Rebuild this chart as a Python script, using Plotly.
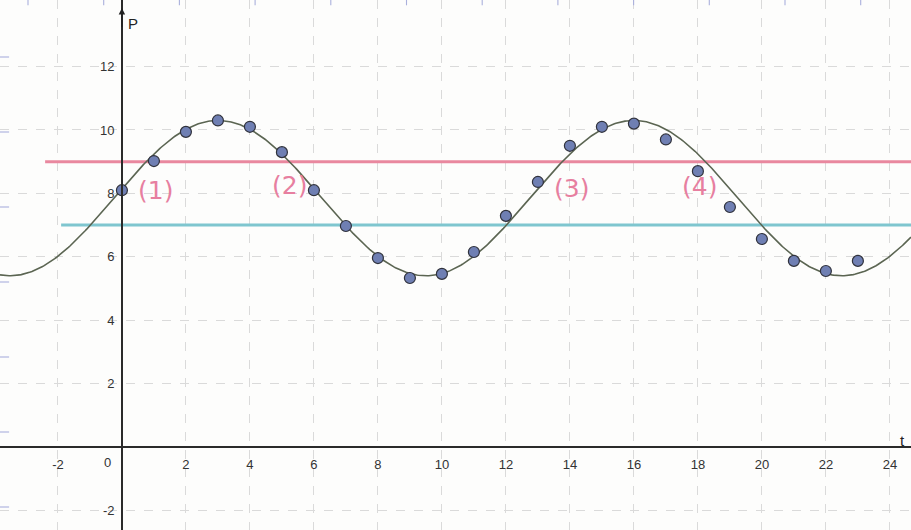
import numpy as np
import plotly.graph_objects as go

# ---- data ----
t_values = list(range(0, 24))
p_values = [8.1, 9.02, 9.94, 10.3, 10.1, 9.3, 8.1, 6.97, 5.96, 5.33, 5.46, 6.15,
            7.29, 8.36, 9.5, 10.1, 10.2, 9.7, 8.7, 7.57, 6.56, 5.87, 5.55, 5.87]

# fitted sine model P(t) = mean + amp * cos(2*pi*(t - t_peak)/period)
fit_mean = 7.85
fit_amp = 2.45
fit_period = 13.0
fit_t_peak = 3.0

pink_level = 9.0
pink_start = -2.4
cyan_level = 7.0
cyan_start = -1.9

x_tick_vals = [-2, 2, 4, 6, 8, 10, 12, 14, 16, 18, 20, 22, 24]
y_tick_vals = [-2, 2, 4, 6, 8, 10, 12]

note_labels = ["(1)", "(2)", "(3)", "(4)"]
note_t = [1.05, 5.25, 14.05, 18.05]
note_p = [8.1, 8.25, 8.15, 8.22]

X_RANGE = [-3.81, 24.66]
Y_RANGE = [-2.62, 14.1]

PINK = "#e9889f"
CYAN = "#7fc6cf"
HAND = "#e77fa0"

fig = go.Figure()

t_curve = np.linspace(X_RANGE[0], X_RANGE[1], 600)
p_curve = fit_mean + fit_amp * np.cos(2 * np.pi * (t_curve - fit_t_peak) / fit_period)

fig.add_trace(go.Scatter(x=[pink_start, X_RANGE[1]], y=[pink_level, pink_level], mode="lines",
                         line=dict(color=PINK, width=3), hoverinfo="skip"))
fig.add_trace(go.Scatter(x=[cyan_start, X_RANGE[1]], y=[cyan_level, cyan_level], mode="lines",
                         line=dict(color=CYAN, width=3), hoverinfo="skip"))
fig.add_trace(go.Scatter(x=t_curve, y=p_curve, mode="lines",
                         line=dict(color="#5b6552", width=1.6), hoverinfo="skip"))
fig.add_trace(go.Scatter(x=t_values, y=p_values, mode="markers",
                         marker=dict(size=11, color="#6f7fb3",
                                     line=dict(color="#30323c", width=1.2))))

for lab, tx, py in zip(note_labels, note_t, note_p):
    fig.add_annotation(x=tx, y=py, text=lab, showarrow=False,
                       font=dict(family="DejaVu Sans", size=25, color=HAND))

# origin label, axis names, arrow
fig.add_annotation(x=0, y=0, text="0", showarrow=False, xshift=-14, yshift=-16,
                   font=dict(family="Liberation Sans", size=13, color="#333"))
fig.add_annotation(x=0, y=13.35, text="P", showarrow=False, xshift=11,
                   font=dict(family="Liberation Sans", size=15, color="#222"))
fig.add_annotation(x=24.38, y=0.2, text="t", showarrow=False,
                   font=dict(family="Liberation Sans", size=15, color="#222"))
fig.add_annotation(x=0, y=13.85, ax=0, ay=13.2, xref="x", yref="y", axref="x", ayref="y",
                   text="", showarrow=True, arrowhead=2, arrowsize=1, arrowwidth=1.3,
                   arrowcolor="#222")

# faint scan marks along the top and left edges of the sheet
shapes = []
for i in range(12):
    xp = (28 + i * 75.7) / 911
    shapes.append(dict(type="line", xref="paper", yref="paper", x0=xp, x1=xp,
                       y0=1.0, y1=0.99, line=dict(color="#aab0dc", width=1.1)))
for i in range(7):
    yp = 1 - (57 + i * 75) / 530
    shapes.append(dict(type="line", xref="paper", yref="paper", x0=0, x1=0.01,
                       y0=yp, y1=yp, line=dict(color="#aab0dc", width=1.1)))

x_pos = (0 - X_RANGE[0]) / (X_RANGE[1] - X_RANGE[0])
y_pos = (0 - Y_RANGE[0]) / (Y_RANGE[1] - Y_RANGE[0])

fig.update_layout(
    width=911, height=530,
    margin=dict(l=0, r=0, t=0, b=0, pad=0),
    paper_bgcolor="#fdfdfc", plot_bgcolor="#fdfdfc",
    showlegend=False,
    shapes=shapes,
    xaxis=dict(range=X_RANGE, anchor="free", position=y_pos, automargin=False,
               tickvals=x_tick_vals, ticktext=[str(v) for v in x_tick_vals],
               showline=True, linecolor="#2a2a2a", linewidth=1.5,
               showgrid=True, gridcolor="#dadada", griddash="dash", gridwidth=1,
               zeroline=False, ticks="", ticklabelstandoff=6,
               tickfont=dict(family="Liberation Sans", size=13, color="#333")),
    yaxis=dict(range=Y_RANGE, anchor="free", position=x_pos, automargin=False,
               tickvals=y_tick_vals, ticktext=[str(v) for v in y_tick_vals],
               showline=True, linecolor="#2a2a2a", linewidth=1.5,
               showgrid=True, gridcolor="#dadada", griddash="dash", gridwidth=1,
               zeroline=False, ticks="", ticklabelstandoff=4,
               tickfont=dict(family="Liberation Sans", size=13, color="#333")),
)

fig.write_html("out.html", config={"displayModeBar": False},
               post_script="document.body.style.margin='0';document.body.style.overflow='hidden';")
